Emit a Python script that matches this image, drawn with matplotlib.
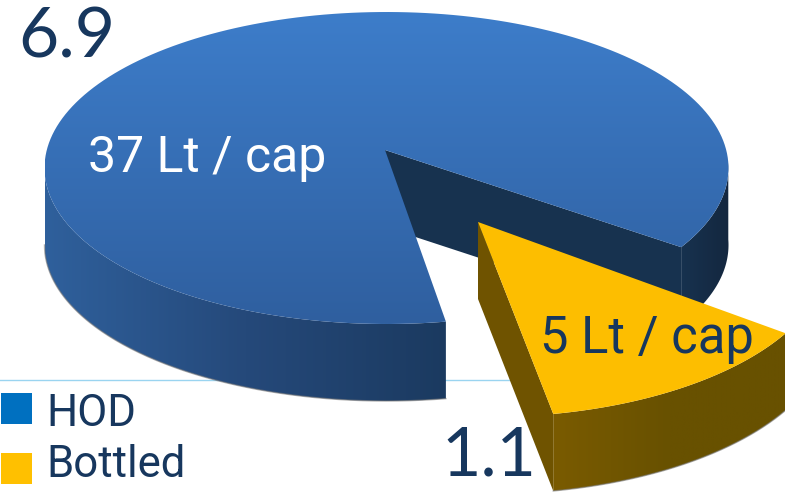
import numpy as np
import matplotlib
matplotlib.use("Agg")
import matplotlib.pyplot as plt
from matplotlib.colors import LinearSegmentedColormap
from matplotlib.patches import Polygon, Rectangle

categories = ["HOD", "Bottled"]
values = [6.9, 1.1]
value_labels = ["6.9", "1.1"]
litres_labels = ["37 Lt / cap", "5 Lt / cap"]

NAVY = "#17375e"
DEPTH = 77
RX = 342


def ellipse_pts(cx, cy, ry, t1, t2):
    t = np.radians(np.linspace(t1, t2, 200))
    return np.column_stack([cx + RX * np.cos(t), cy - ry * np.sin(t)])


def shade(ax, pts, colors, vertical=True, zorder=2):
    """Fill a polygon with a linear gradient, clipped to the polygon."""
    cmap = LinearSegmentedColormap.from_list("g", colors)
    x0, x1 = pts[:, 0].min(), pts[:, 0].max()
    y0, y1 = pts[:, 1].min(), pts[:, 1].max()
    grad = np.linspace(0, 1, 256).reshape(-1, 1) if vertical else np.linspace(0, 1, 256).reshape(1, -1)
    im = ax.imshow(grad, cmap=cmap, extent=[x0, x1, y1, y0], aspect="auto", zorder=zorder)
    im.set_clip_path(Polygon(pts, closed=True, transform=ax.transData))


def wall(arc):
    return np.vstack([arc, arc[::-1] + [0, DEPTH]])


fig = plt.figure(figsize=(7.85, 4.95), dpi=100)
ax = fig.add_axes([0, 0, 1, 1])

# sweep of each slice comes from the values
share = np.array(values) / sum(values) * 360
hod_start = -30.5
hod_end = hod_start + share[0]
bot_start = -29.5
bot_end = bot_start - share[1]

# background rule
ax.plot([0, 520], [379.5, 379.5], color="#9ad4f0", lw=1, zorder=1)

# main slice
apex = np.array([385.0, 150.0])
mx, my, m_ry = 386.5, 168, 156
rim = ellipse_pts(mx, my, m_ry, hod_start, hod_end)
cut = np.array([apex, rim[0], rim[0] + [0, DEPTH], apex + [0, DEPTH]])
ax.add_patch(Polygon(cut, closed=True, fc="#17324f", ec="none", zorder=2))

right_arc = ellipse_pts(mx, my, m_ry, hod_start, 2)
shade(ax, wall(right_arc), ["#17324f", "#14273f"], vertical=False, zorder=2)
front_arc = ellipse_pts(mx, my, m_ry, 180, hod_end)
shade(ax, wall(front_arc), ["#2f609c", "#25497a", "#1b3a60"], vertical=False, zorder=2)
ax.plot(front_arc[:, 0], front_arc[:, 1] + DEPTH, color="#777777", lw=1, alpha=0.6, zorder=2)

top = np.vstack([apex, rim])
shade(ax, top, ["#3d7dca", "#2f5f9f"], vertical=True, zorder=3)

# exploded slice
b_apex = np.array([478.0, 222.0])
bx, by, b_ry = 488, 252, 165
b_rim = ellipse_pts(bx, by, b_ry, bot_start, bot_end)
side = np.array([b_apex, b_rim[-1], b_rim[-1] + [0, DEPTH], b_apex + [0, DEPTH]])
ax.add_patch(Polygon(side, closed=True, fc="#6f5300", ec="none", zorder=4))
shade(ax, wall(b_rim), ["#7a5b00", "#685100", "#685100"], vertical=False, zorder=4)
ax.plot(b_rim[:, 0], b_rim[:, 1] + DEPTH, color="#777777", lw=1, alpha=0.6, zorder=4)
ax.add_patch(Polygon(np.vstack([b_apex, b_rim]), closed=True, fc="#fdbe00", ec="none", zorder=5))

# slice texts
ax.text(88, 172, litres_labels[0], color="white", family="Roboto", fontsize=36, va="baseline", zorder=6)
ax.text(540, 353, litres_labels[1], color=NAVY, family="Roboto", fontsize=36.5, va="baseline", zorder=6)
ax.text(18, 57, value_labels[0], color=NAVY, family="Lato", fontsize=50, va="baseline", zorder=6)
ax.text(441, 476, value_labels[1], color=NAVY, family="Lato", fontsize=49, va="baseline", zorder=6)

# legend
for name, col, y, base in zip(categories, ["#0070c0", "#ffc000"], [393, 453], [426, 477]):
    ax.add_patch(Rectangle((1, y), 31, 31, fc=col, ec="none", zorder=6))
    ax.text(46, base, name, color=NAVY, family="Roboto", fontsize=31.5, va="baseline", zorder=6)

ax.set_xlim(0, 785)
ax.set_ylim(495, 0)
ax.axis("off")
fig.savefig("out.png", dpi=100)
